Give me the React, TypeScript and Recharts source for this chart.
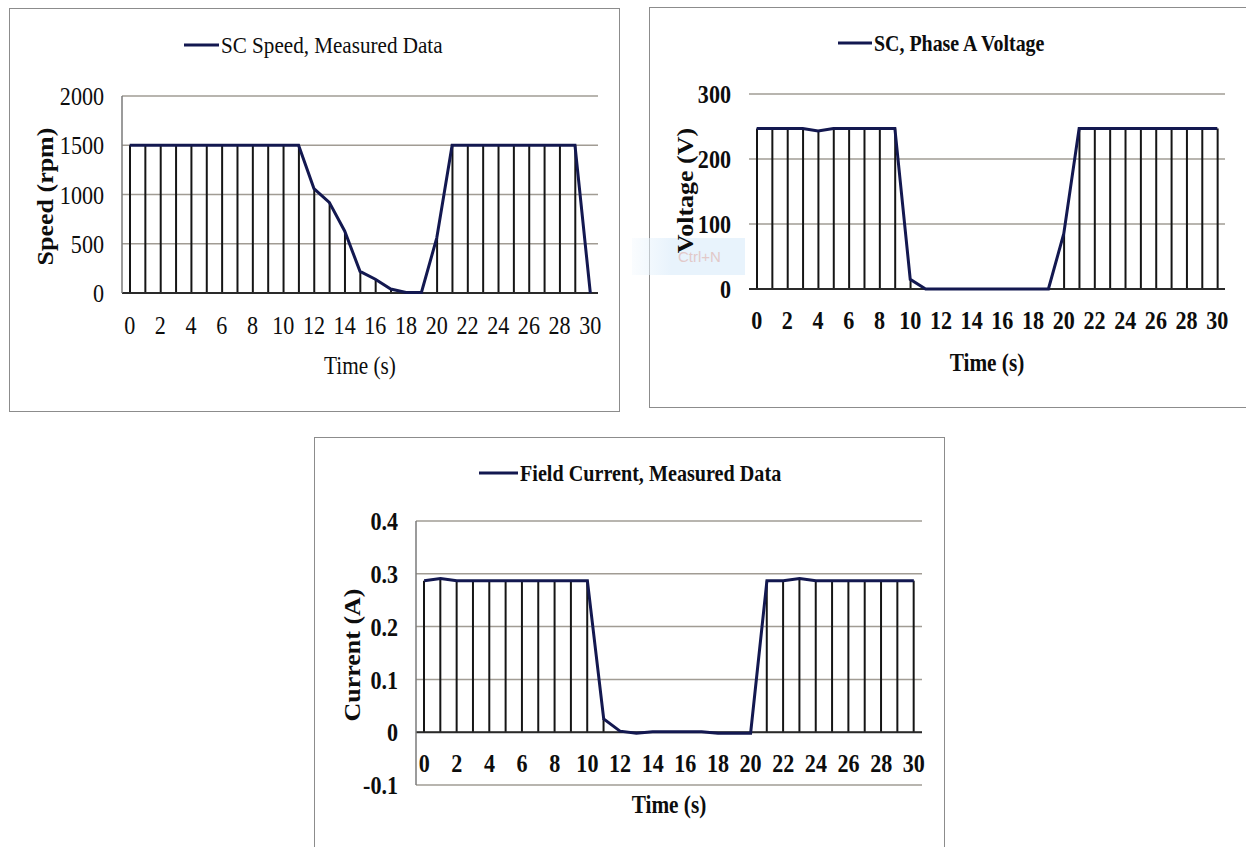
import {
  ComposedChart,
  Bar,
  Line,
  XAxis,
  YAxis,
  CartesianGrid,
  ReferenceLine,
  Legend,
  Label,
} from "recharts";

// time axis (s)
const timeSec = [
  0, 1, 2, 3, 4, 5, 6, 7, 8, 9, 10, 11, 12, 13, 14, 15, 16, 17, 18, 19, 20, 21,
  22, 23, 24, 25, 26, 27, 28, 29, 30,
];
const xTicks = [0, 2, 4, 6, 8, 10, 12, 14, 16, 18, 20, 22, 24, 26, 28, 30];

// SC speed, rpm
const speedRpm = [
  1500, 1500, 1500, 1500, 1500, 1500, 1500, 1500, 1500, 1500, 1500, 1500, 1060,
  920, 630, 220, 140, 40, 5, 5, 560, 1500, 1500, 1500, 1500, 1500, 1500, 1500,
  1500, 1500, 0,
];
const speedTicks = [0, 500, 1000, 1500, 2000];

// SC phase A voltage, V
const voltageV = [
  247, 247, 247, 247, 243, 247, 247, 247, 247, 247, 15, 0, 0, 0, 0, 0, 0, 0, 0,
  0, 85, 247, 247, 247, 247, 247, 247, 247, 247, 247, 247,
];
const voltageTicks = [0, 100, 200, 300];

// field current, A
const currentA = [
  0.287, 0.291, 0.287, 0.287, 0.287, 0.287, 0.287, 0.287, 0.287, 0.287, 0.287,
  0.025, 0.002, -0.002, 0.001, 0.001, 0.001, 0.001, -0.002, -0.002, -0.002,
  0.287, 0.287, 0.291, 0.287, 0.287, 0.287, 0.287, 0.287, 0.287, 0.287,
];
const currentTicks = [-0.1, 0, 0.1, 0.2, 0.3, 0.4];

const FONT = '"Liberation Serif", "Times New Roman", serif';
const LINE = "#131850";
const GRID = "#a19c94";
const INK = "#0d0d0d";
const SX = 0.85; // the source figure is squeezed horizontally
const YW = 70;

type PanelProps = {
  left: number;
  top: number;
  width: number;
  height: number;
  margin: { top: number; right: number; bottom: number; left: number };
  xAxisHeight: number;
  values: number[];
  yDomain: [number, number];
  yTicks: number[];
  title: string;
  yLabel: string;
  bold: boolean;
  yLabelBold: boolean;
  yAxisLine: boolean;
  xTickShift: number;
  xLabelShift: number;
  yLabelX: number;
  yLabelShift: number;
  legendX: number;
  legendY: number;
  legendLine: number;
  titleScale: number;
};

function Panel(p: PanelProps) {
  const data = timeSec.map((t, i) => ({ t, v: p.values[i] }));
  const weight = p.bold ? 700 : 400;

  const xTick = (props: any) => (
    <text
      transform={`translate(${props.x},${props.y + p.xTickShift}) scale(${SX},1)`}
      dy="0.35em"
      textAnchor="middle"
      fontFamily={FONT}
      fontSize={26}
      fontWeight={weight}
      fill={INK}
    >
      {props.payload.value}
    </text>
  );

  const yTick = (props: any) => (
    <text
      transform={`translate(${props.x - 18},${props.y}) scale(${SX},1)`}
      dy="0.35em"
      textAnchor="end"
      fontFamily={FONT}
      fontSize={26}
      fontWeight={weight}
      fill={INK}
    >
      {props.payload.value}
    </text>
  );

  const xLabel = (props: any) => {
    const vb = props.viewBox;
    return (
      <text
        transform={`translate(${vb.x + vb.width / 2},${vb.y + p.xLabelShift}) scale(${SX},1)`}
        dy="0.35em"
        textAnchor="middle"
        fontFamily={FONT}
        fontSize={25}
        fontWeight={weight}
        fill={INK}
      >
        Time (s)
      </text>
    );
  };

  const yLabel = (props: any) => {
    const vb = props.viewBox;
    const cx = vb.x + vb.width + p.yLabelX;
    const cy = vb.y + vb.height / 2 + p.yLabelShift;
    return (
      <text
        transform={`translate(${cx},${cy}) scale(${SX},1) rotate(-90)`}
        dy="0.35em"
        textAnchor="middle"
        fontFamily={FONT}
        fontSize={26}
        fontWeight={p.yLabelBold ? 700 : 400}
        fill={INK}
      >
        {p.yLabel}
      </text>
    );
  };

  return (
    <div style={{ position: "absolute", left: p.left, top: p.top }}>
      <ComposedChart
        width={p.width}
        height={p.height}
        data={data}
        margin={p.margin}
      >
        <CartesianGrid vertical={false} stroke={GRID} strokeWidth={1.5} />
        <XAxis
          type="number"
          dataKey="t"
          domain={[-0.5, 30.5]}
          ticks={xTicks}
          interval={0}
          axisLine={false}
          tickLine={false}
          tickSize={0}
          tickMargin={0}
          height={p.xAxisHeight}
          tick={xTick}
        >
          <Label content={xLabel} />
        </XAxis>
        <YAxis
          type="number"
          domain={p.yDomain}
          ticks={p.yTicks}
          interval={0}
          width={YW}
          axisLine={p.yAxisLine ? { stroke: "#7a7a7a", strokeWidth: 1.5 } : false}
          tickLine={false}
          tickSize={0}
          tickMargin={0}
          tick={yTick}
        >
          <Label content={yLabel} />
        </YAxis>
        <ReferenceLine y={0} stroke="#2a2a2a" strokeWidth={2} />
        <Bar dataKey="v" barSize={2} fill="#151515" isAnimationActive={false} />
        <Line
          dataKey="v"
          type="linear"
          stroke={LINE}
          strokeWidth={3}
          dot={false}
          activeDot={false}
          isAnimationActive={false}
        />
        <Legend
          layout="horizontal"
          verticalAlign="middle"
          wrapperStyle={{
            top: p.legendY - 18,
            left: p.legendX,
            width: 440,
            height: 36,
          }}
          content={() => (
            <svg width={440} height={36} style={{ display: "block" }}>
              <line
                x1={0}
                y1={18}
                x2={p.legendLine}
                y2={18}
                stroke={LINE}
                strokeWidth={3}
              />
              <text
                transform={`translate(${p.legendLine + 2},18) scale(${p.titleScale},1)`}
                dy="0.35em"
                fontFamily={FONT}
                fontSize={24}
                fontWeight={weight}
                fill={INK}
              >
                {p.title}
              </text>
            </svg>
          )}
        />
      </ComposedChart>
    </div>
  );
}

const boxStyle = (left: number, top: number, width: number, height: number) => ({
  position: "absolute" as const,
  left,
  top,
  width,
  height,
  boxSizing: "border-box" as const,
  border: "1.5px solid #8c8c8c",
});

export default function App() {
  return (
    <div
      style={{
        position: "absolute",
        left: 0,
        top: 0,
        width: 1246,
        height: 847,
        overflow: "hidden",
        background: "#fff",
      }}
    >
      <div style={boxStyle(9, 8, 611, 404)} />
      <div style={boxStyle(649, 7, 620, 401)} />
      <div style={boxStyle(314, 437, 631, 430)} />

      {/* faint overlay artifact in the source picture */}
      <div
        style={{
          position: "absolute",
          left: 632,
          top: 238,
          width: 113,
          height: 37,
          background:
            "linear-gradient(to right, rgba(230,242,252,0.2), #e8f3fc 35%)",
          fontFamily: '"Liberation Sans", sans-serif',
          fontSize: 15,
          color: "#e2c9c9",
          lineHeight: "37px",
          paddingLeft: 46,
          boxSizing: "border-box",
        }}
      >
        Ctrl+N
      </div>

      <Panel
        left={9}
        top={8}
        width={611}
        height={404}
        margin={{ top: 88, right: 22, bottom: 19, left: 43 }}
        xAxisHeight={100}
        values={speedRpm}
        yDomain={[0, 2000]}
        yTicks={speedTicks}
        title="SC Speed, Measured Data"
        yLabel="Speed (rpm)"
        bold={false}
        yLabelBold={true}
        yAxisLine={true}
        xTickShift={32}
        xLabelShift={72}
        yLabelX={-77}
        yLabelShift={2}
        legendX={175}
        legendY={37}
        legendLine={35}
        titleScale={0.88}
      />

      <Panel
        left={649}
        top={7}
        width={597}
        height={401}
        margin={{ top: 87, right: 21, bottom: 19, left: 30 }}
        xAxisHeight={100}
        values={voltageV}
        yDomain={[0, 300]}
        yTicks={voltageTicks}
        title="SC, Phase A Voltage"
        yLabel="Voltage (V)"
        bold={true}
        yLabelBold={true}
        yAxisLine={false}
        xTickShift={31}
        xLabelShift={73}
        yLabelX={-64}
        yLabelShift={-1}
        legendX={189}
        legendY={36}
        legendLine={34}
        titleScale={0.83}
      />

      <Panel
        left={314}
        top={437}
        width={631}
        height={410}
        margin={{ top: 84, right: 23, bottom: 12, left: 32 }}
        xAxisHeight={50}
        values={currentA}
        yDomain={[-0.1, 0.4]}
        yTicks={currentTicks}
        title="Field Current, Measured Data"
        yLabel="Current (A)"
        bold={true}
        yLabelBold={true}
        yAxisLine={true}
        xTickShift={-22}
        xLabelShift={19}
        yLabelX={-64}
        yLabelShift={2}
        legendX={165}
        legendY={36}
        legendLine={39}
        titleScale={0.84}
      />
    </div>
  );
}
